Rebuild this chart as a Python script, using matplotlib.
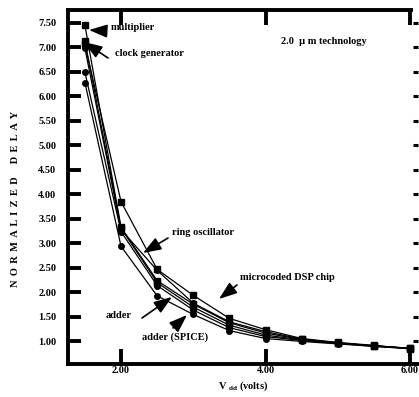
import matplotlib
matplotlib.use("Agg")
import matplotlib.pyplot as plt

plt.rcParams['font.family'] = ['Liberation Serif', 'DejaVu Serif']
plt.rcParams['font.weight'] = 'bold'
plt.rcParams['mathtext.fontset'] = 'custom'
plt.rcParams['mathtext.rm'] = 'Liberation Serif:bold'
plt.rcParams['mathtext.bf'] = 'Liberation Serif:bold'

# ---- data ----
vdd = [1.5, 2.0, 2.5, 3.0, 3.5, 4.0, 4.5, 5.0, 5.5, 6.0]
multiplier = [7.45, 3.33, 2.24, 1.76, 1.38, 1.17, 1.04, 0.97, 0.91, 0.86]
clock_generator = [7.12, 3.31, 2.20, 1.70, 1.33, 1.13, 1.03, 0.96, 0.91, 0.86]
ring_oscillator = [6.98, 3.28, 2.45, 1.78, 1.40, 1.20, 1.05, 0.97, 0.91, 0.86]
dsp_chip = [7.06, 3.85, 2.47, 1.94, 1.47, 1.24, 1.06, 0.98, 0.92, 0.85]
adder = [6.28, 2.94, 1.93, 1.55, 1.22, 1.06, 1.00, 0.95, 0.90, 0.86]
adder_spice = [6.49, 3.24, 2.14, 1.64, 1.28, 1.10, 1.02, 0.96, 0.90, 0.85]

series = [multiplier, clock_generator, ring_oscillator, dsp_chip, adder, adder_spice]
markers = ['s', 's', 'o', 's', 'o', 'o']

yticks = [7.50, 7.00, 6.50, 6.00, 5.50, 5.00, 4.50, 4.00, 3.50, 3.00, 2.50, 2.00, 1.50, 1.00]
xticks = [2.00, 4.00, 6.00]

W, H = 419, 397
fig = plt.figure(figsize=(W / 100, H / 100), dpi=100)
ax = fig.add_axes([68 / W, 1 - 364 / H, (418 - 68) / W, (364 - 10) / H])

for s, m in zip(series, markers):
    ax.plot(vdd, s, color='black', lw=0.9, marker=m, markersize=4.0,
            markerfacecolor='black', markeredgecolor='black')

ax.set_xlim(1.266, 6.11)
ax.set_ylim(0.54, 7.76)
ax.set_xticks(xticks)
ax.set_xticklabels([f"{t:.2f}" for t in xticks])
ax.set_yticks(yticks)
ax.set_yticklabels([f"{t:.2f}" for t in yticks])

for side in ['left', 'bottom', 'top']:
    ax.spines[side].set_linewidth(2.8)
ax.spines['right'].set_visible(False)
ax.spines['top'].set_bounds(1.266, 6.02)

ax.tick_params(axis='y', direction='in', length=9.4, width=2.8, pad=8.5,
               labelsize=7.5, left=True, right=False)
ax.tick_params(axis='x', direction='in', length=11, width=2.8, pad=1.5,
               labelsize=7.5, top=True, bottom=True)

sec = ax.secondary_yaxis('right')
sec.set_yticks(yticks)
sec.set_yticklabels([])
sec.tick_params(direction='in', length=3.6, width=2.2)
sec.spines['right'].set_visible(False)

def fp(px, py):
    return (px / W, 1 - py / H)

fs = 7.5
gap = " \u2006"
ylabel_text = gap.join("NORMALIZED") + gap * 3 + gap.join("DELAY")
fig.text(*fp(16, 199), ylabel_text, rotation=90,
         ha='center', va='center', fontsize=fs, fontweight='bold')
fig.text(*fp(243, 389), r"V$_{\ \mathrm{dd}}$ (volts)", ha='center',
         va='baseline', fontsize=fs, fontweight='bold')
fig.text(*fp(324, 42), "2.0  \u00b5 m technology", ha='center', va='center',
         fontsize=fs, fontweight='bold')

arrow = dict(arrowstyle='-|>,head_length=1.1,head_width=0.4', color='black',
             lw=1.2, shrinkA=0, shrinkB=0)

labels = [
    ("multiplier", (111, 28), (106, 31), (89, 30)),
    ("clock generator", (115, 54), (108, 58), (84, 42)),
    ("ring oscillator", (172, 233), (168, 238), (143, 253)),
    ("microcoded DSP chip", (240, 277), (237, 285), (219, 299)),
    ("adder", (106, 315), (142, 318), (172, 297)),
    ("adder (SPICE)", (142, 337), (173, 328), (187, 315)),
]
for txt, tpos, tail, tip in labels:
    fig.text(*fp(*tpos), txt, ha='left', va='center', fontsize=fs,
             fontweight='bold')
    ax.annotate('', xy=fp(*tip), xytext=fp(*tail), xycoords='figure fraction',
                textcoords='figure fraction', arrowprops=arrow)

fig.savefig("out.png", dpi=100)
